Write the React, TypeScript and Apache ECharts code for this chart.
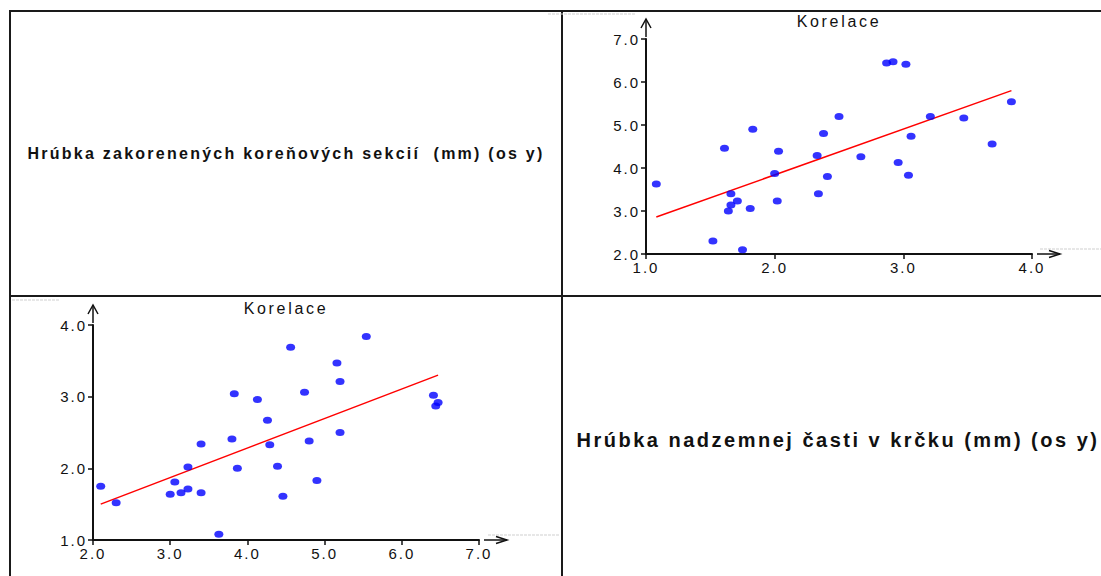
import React, { useEffect, useRef } from "react";
import * as echarts from "echarts";

// Hrúbka zakorenených koreňových sekcií (mm) — range 1–4
const rootThickness = [
  1.08, 1.52, 1.61, 1.64, 1.66, 1.66, 1.71, 1.75, 1.81, 1.83,
  2.0, 2.02, 2.03, 2.33, 2.34, 2.38, 2.41, 2.5, 2.67, 2.87,
  2.92, 2.96, 3.02, 3.04, 3.06, 3.21, 3.47, 3.69, 3.84,
];
// Hrúbka nadzemnej časti v krčku (mm) — range 2–7
const stemThickness = [
  3.63, 2.3, 4.46, 3.0, 3.14, 3.4, 3.23, 2.1, 3.06, 4.9,
  3.87, 3.23, 4.39, 4.29, 3.4, 4.8, 3.8, 5.2, 4.26, 6.44,
  6.47, 4.13, 6.41, 3.83, 4.74, 5.2, 5.16, 4.56, 5.54,
];

// regression line end points
const fitStemOnRootX = [1.08, 3.84];
const fitStemOnRootY = [2.86, 5.8];
const fitRootOnStemX = [2.1, 6.47];
const fitRootOnStemY = [1.5, 3.3];

const rootAxisRange = { min: 1, max: 4, interval: 1 };
const stemAxisRange = { min: 2, max: 7, interval: 1 };

const titleText = "Korelace";
const labelRoot = "Hrúbka zakorenených koreňových sekcií  (mm) (os y)";
const labelStem = "Hrúbka nadzemnej časti v krčku (mm) (os y)";

const FONT = "'Liberation Sans', Arial, sans-serif";
const G1 = { left: 646, top: 39, width: 386, height: 215 };
const G2 = { left: 93, top: 325, width: 386, height: 215 };

const ELLIPSE = "path://M0,5 A8,5 0 1,1 16,5 A8,5 0 1,1 0,5 Z";

function axis(range: { min: number; max: number; interval: number }, gridIndex: number, isY: boolean) {
  return {
    type: "value",
    gridIndex,
    min: range.min,
    max: range.max,
    interval: range.interval,
    axisLine: { show: true, onZero: false, lineStyle: { color: "#111", width: 2 } },
    axisTick: { show: true, length: 5, lineStyle: { color: "#111", width: 1.5 } },
    axisLabel: {
      show: true,
      fontSize: 15,
      color: "#111",
      fontFamily: FONT,
      margin: isY ? 6 : 6,
      formatter: (v: number) => v.toFixed(1),
    },
    splitLine: { show: false },
  };
}

function arrowsFor(g: { left: number; top: number; width: number; height: number }) {
  const bottom = g.top + g.height;
  const right = g.left + g.width;
  const st = { stroke: "#111", lineWidth: 1.5, fill: "none" };
  return [
    { type: "line", shape: { x1: g.left, y1: g.top - 2, x2: g.left, y2: g.top - 20 }, style: st },
    { type: "polyline", shape: { points: [[g.left - 5, g.top - 11], [g.left, g.top - 20], [g.left + 5, g.top - 11]] }, style: st },
    { type: "line", shape: { x1: right + 5, y1: bottom, x2: right + 28, y2: bottom }, style: st },
    { type: "polyline", shape: { points: [[right + 17, bottom - 3.5], [right + 28, bottom], [right + 17, bottom + 3.5]] }, style: st },
  ];
}

function applySpacing(el: HTMLElement) {
  el.querySelectorAll("text").forEach((t) => {
    const s = t.textContent || "";
    let ls = 0;
    if (/^\d\.\d$/.test(s)) ls = 2;
    else if (s === titleText) ls = 2.7;
    else if (s.startsWith("Hrúbka z")) ls = 2.25;
    else if (s.startsWith("Hrúbka n")) ls = 2.5;
    if (ls) t.setAttribute("letter-spacing", String(ls));
  });
}

export default function App() {
  const ref = useRef<HTMLDivElement>(null);
  useEffect(() => {
    if (!ref.current) return;
    const chart = echarts.init(ref.current, null, { renderer: "svg" });
    const pts1 = rootThickness.map((a, i) => [a, stemThickness[i]]);
    const pts2 = rootThickness.map((a, i) => [stemThickness[i], a]);
    const border = { stroke: "#1a1a1a", lineWidth: 2 };
    const faint = { stroke: "#cfcfcf", lineWidth: 1, lineDash: [3, 1] };
    const option: any = {
      animation: false,
      backgroundColor: "#fff",
      grid: [
        { ...G1, containLabel: false },
        { ...G2, containLabel: false },
      ],
      xAxis: [axis(rootAxisRange, 0, false), axis(stemAxisRange, 1, false)],
      yAxis: [axis(stemAxisRange, 0, true), axis(rootAxisRange, 1, true)],
      series: [
        {
          type: "scatter",
          xAxisIndex: 0,
          yAxisIndex: 0,
          data: pts1,
          symbol: ELLIPSE,
          symbolSize: [9, 7],
          itemStyle: { color: "#0000ff" },
          z: 3,
        },
        {
          type: "line",
          xAxisIndex: 0,
          yAxisIndex: 0,
          data: fitStemOnRootX.map((x, i) => [x, fitStemOnRootY[i]]),
          showSymbol: false,
          lineStyle: { color: "#ff0000", width: 1.5 },
          z: 2,
        },
        {
          type: "scatter",
          xAxisIndex: 1,
          yAxisIndex: 1,
          data: pts2,
          symbol: ELLIPSE,
          symbolSize: [9, 7],
          itemStyle: { color: "#0000ff" },
          z: 3,
        },
        {
          type: "line",
          xAxisIndex: 1,
          yAxisIndex: 1,
          data: fitRootOnStemX.map((x, i) => [x, fitRootOnStemY[i]]),
          showSymbol: false,
          lineStyle: { color: "#ff0000", width: 1.5 },
          z: 2,
        },
      ],
      graphic: [
        // panel borders
        { type: "line", shape: { x1: 9, y1: 11, x2: 1101, y2: 11 }, style: border },
        { type: "line", shape: { x1: 10, y1: 10, x2: 10, y2: 576 }, style: border },
        { type: "line", shape: { x1: 562, y1: 10, x2: 562, y2: 576 }, style: border },
        { type: "line", shape: { x1: 9, y1: 296, x2: 1101, y2: 296 }, style: border },
        // faint artefacts
        { type: "line", shape: { x1: 548, y1: 14, x2: 636, y2: 14 }, style: faint },
        { type: "line", shape: { x1: 12, y1: 300, x2: 60, y2: 300 }, style: faint },
        { type: "line", shape: { x1: 1040, y1: 249, x2: 1101, y2: 249 }, style: faint },
        { type: "line", shape: { x1: 488, y1: 535, x2: 560, y2: 535 }, style: faint },
        ...arrowsFor(G1),
        ...arrowsFor(G2),
        {
          type: "text",
          x: G1.left + G1.width / 2,
          y: 21.5,
          style: { text: titleText, fontSize: 16, fontFamily: FONT, fill: "#111", align: "center", verticalAlign: "middle" },
        },
        {
          type: "text",
          x: G2.left + G2.width / 2,
          y: 308.5,
          style: { text: titleText, fontSize: 16, fontFamily: FONT, fill: "#111", align: "center", verticalAlign: "middle" },
        },
        {
          type: "text",
          x: 286,
          y: 153.5,
          style: { text: labelRoot, fontSize: 16, fontWeight: "bold", fontFamily: FONT, fill: "#111", align: "center", verticalAlign: "middle" },
        },
        {
          type: "text",
          x: 838,
          y: 440,
          style: { text: labelStem, fontSize: 20, fontWeight: "bold", fontFamily: FONT, fill: "#111", align: "center", verticalAlign: "middle" },
        },
      ],
    };
    chart.setOption(option);
    const el = ref.current;
    applySpacing(el);
    const onRendered = () => applySpacing(el);
    chart.on("rendered", onRendered);
    return () => {
      chart.off("rendered", onRendered);
      chart.dispose();
    };
  }, []);
  return (
    <div
      ref={ref}
      style={{ position: "fixed", left: 0, top: 0, width: 1101, height: 576, background: "#fff" }}
    />
  );
}
